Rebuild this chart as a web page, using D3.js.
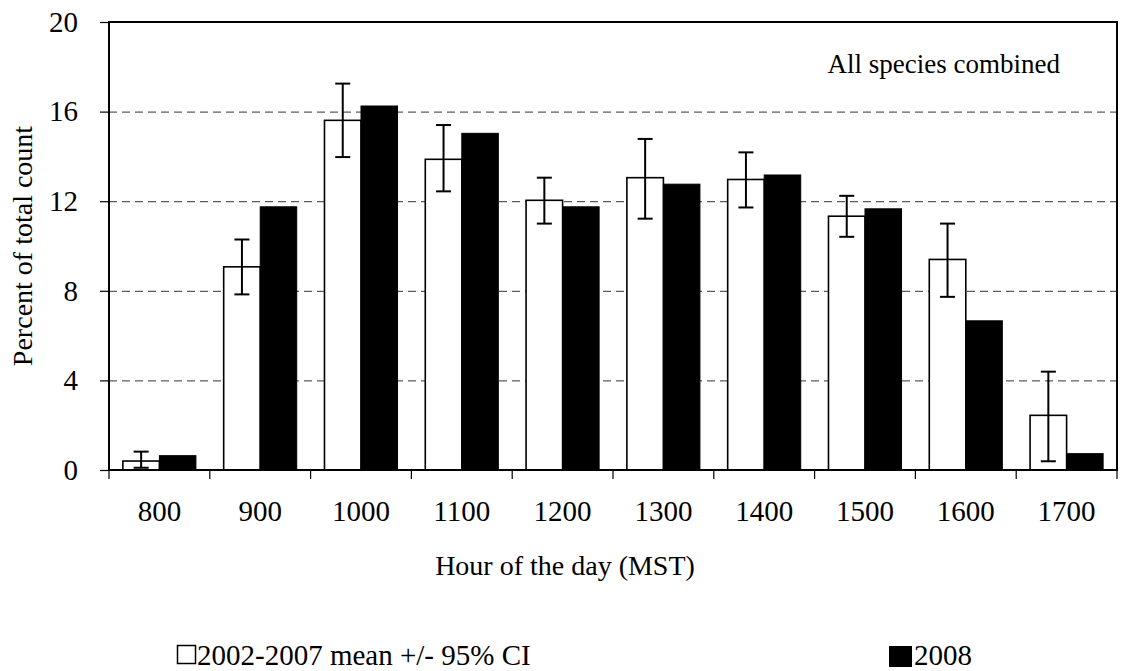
<!DOCTYPE html>
<html lang="en">
<head>
  <meta charset="UTF-8">
  <title>Percent of total count by hour</title>
  <script src="https://d3js.org/d3.v7.min.js"></script>
  <style>
    body { margin: 0; background: #fff; }
    svg text { font-family: "Liberation Serif", Tinos, "Times New Roman", Times, "DejaVu Serif", serif; fill: #000; }
    .gridlines line { stroke: #333; stroke-dasharray: 8 5; }
    .gridlines .domain { stroke: none; }
  </style>
</head>
<body>
  <svg id="chart" width="1121" height="671"></svg>
  <script>
    // values
    const hours = ["800", "900", "1000", "1100", "1200", "1300", "1400", "1500", "1600", "1700"];
    const meanValues = [0.40, 9.07, 15.61, 13.87, 12.04, 13.05, 12.97, 11.33, 9.40, 2.44];
    const ciLow = [0.10, 7.84, 13.97, 12.44, 11.00, 11.22, 11.72, 10.41, 7.73, 0.39];
    const ciHigh = [0.82, 10.29, 17.25, 15.40, 13.05, 14.78, 14.18, 12.24, 11.00, 4.39];
    const values2008 = [0.64, 11.75, 16.25, 15.03, 11.75, 12.76, 13.17, 11.66, 6.66, 0.73];
    const yTicks = [0, 4, 8, 12, 16, 20];
    const gridTicks = [4, 8, 12, 16];

    const svg = d3.select("#chart");
    const margins = { top: 22, right: 4, bottom: 201, left: 109 };
    const height = +svg.attr("height");
    const chartWidth = 1117 - margins.left;
    const chartHeight = height - margins.top - margins.bottom;

    const xScale = d3.scaleBand().domain(hours).range([0, chartWidth]).padding(0);
    const x1 = d3.scaleBand().domain(["mean", "y2008"]).range([0, xScale.bandwidth()])
      .paddingInner(0).paddingOuter(0.38);
    const yScale = d3.scaleLinear().domain([0, 20]).range([chartHeight, 0]);

    const chartArea = svg.append("g").attr("transform", `translate(${margins.left},${margins.top})`);

    // dashed gridlines
    chartArea.append("g")
      .attr("class", "gridlines")
      .call(d3.axisLeft(yScale).tickValues(gridTicks).tickSize(-chartWidth).tickFormat(""));

    const data = hours.map((h, i) => ({
      hour: h, mean: meanValues[i], lo: ciLow[i], hi: ciHigh[i], v2008: values2008[i]
    }));

    // white bars (2002-2007 mean)
    chartArea.selectAll("rect.barMean").data(data)
      .join("rect").attr("class", "barMean")
      .attr("fill", "#fff").attr("stroke", "#000").attr("stroke-width", 1.6)
      .attr("x", d => xScale(d.hour) + x1("mean"))
      .attr("y", d => yScale(d.mean))
      .attr("width", x1.bandwidth())
      .attr("height", d => yScale(0) - yScale(d.mean));

    // black bars (2008)
    chartArea.selectAll("rect.bar2008").data(data)
      .join("rect").attr("class", "bar2008")
      .attr("fill", "#000").attr("stroke", "#000").attr("stroke-width", 1)
      .attr("x", d => xScale(d.hour) + x1("y2008"))
      .attr("y", d => yScale(d.v2008))
      .attr("width", x1.bandwidth())
      .attr("height", d => yScale(0) - yScale(d.v2008));

    // error bars
    const cap = 7.5;
    const errG = chartArea.selectAll("g.err").data(data).join("g").attr("class", "err")
      .attr("transform", d => `translate(${xScale(d.hour) + x1("mean") + x1.bandwidth() / 2},0)`)
      .attr("stroke", "#000").attr("stroke-width", 2);
    errG.append("line").attr("x1", 0).attr("x2", 0)
      .attr("y1", d => yScale(d.lo)).attr("y2", d => yScale(d.hi));
    errG.append("line").attr("x1", -cap).attr("x2", cap)
      .attr("y1", d => yScale(d.hi)).attr("y2", d => yScale(d.hi));
    errG.append("line").attr("x1", -cap).attr("x2", cap)
      .attr("y1", d => yScale(d.lo)).attr("y2", d => yScale(d.lo));

    // plot frame
    chartArea.append("rect")
      .attr("x", 0).attr("y", 0).attr("width", chartWidth).attr("height", chartHeight)
      .attr("fill", "none").attr("stroke", "#000").attr("stroke-width", 2);

    // y axis
    const leftAxis = chartArea.append("g")
      .call(d3.axisLeft(yScale).tickValues(yTicks).tickSize(9).tickPadding(22).tickFormat(d3.format("d")));
    leftAxis.attr("font-family", null);
    leftAxis.select(".domain").remove();
    leftAxis.selectAll("line").attr("stroke", "#000").attr("stroke-width", 1.2);
    leftAxis.selectAll("text").attr("font-size", "29px");

    // x axis: ticks on category boundaries
    const xAxisG = chartArea.append("g").attr("transform", `translate(0,${chartHeight})`);
    xAxisG.call(d3.axisBottom(xScale).tickSize(0).tickPadding(30));
    xAxisG.attr("font-family", null);
    xAxisG.select(".domain").remove();
    xAxisG.selectAll("text").attr("font-size", "29px");
    xAxisG.selectAll("line.boundary").data(d3.range(hours.length + 1))
      .join("line").attr("class", "boundary")
      .attr("x1", i => i * xScale.step()).attr("x2", i => i * xScale.step())
      .attr("y1", 0).attr("y2", 9)
      .attr("stroke", "#000").attr("stroke-width", 1.2);

    // axis titles
    svg.append("text")
      .attr("x", 565)
      .attr("y", 575)
      .attr("text-anchor", "middle")
      .attr("font-size", "28px")
      .text("Hour of the day (MST)");

    svg.append("text")
      .attr("transform", `translate(32,${margins.top + chartHeight / 2}) rotate(-90)`)
      .attr("text-anchor", "middle")
      .attr("font-size", "28px")
      .text("Percent of total count");

    // annotation
    svg.append("text")
      .attr("x", 1060)
      .attr("y", 73)
      .attr("text-anchor", "end")
      .attr("font-size", "27px")
      .text("All species combined");

    // legend
    svg.append("rect")
      .attr("x", 177.5).attr("y", 645.5).attr("width", 18).attr("height", 18)
      .attr("fill", "#fff").attr("stroke", "#000").attr("stroke-width", 1.5);
    svg.append("text")
      .attr("x", 197).attr("y", 665)
      .attr("font-size", "29px")
      .text("2002-2007 mean +/- 95% CI");
    svg.append("rect")
      .attr("x", 889).attr("y", 646).attr("width", 23).attr("height", 21)
      .attr("fill", "#000");
    svg.append("text")
      .attr("x", 914).attr("y", 665)
      .attr("font-size", "29px")
      .text("2008");
  </script>
</body>
</html>
